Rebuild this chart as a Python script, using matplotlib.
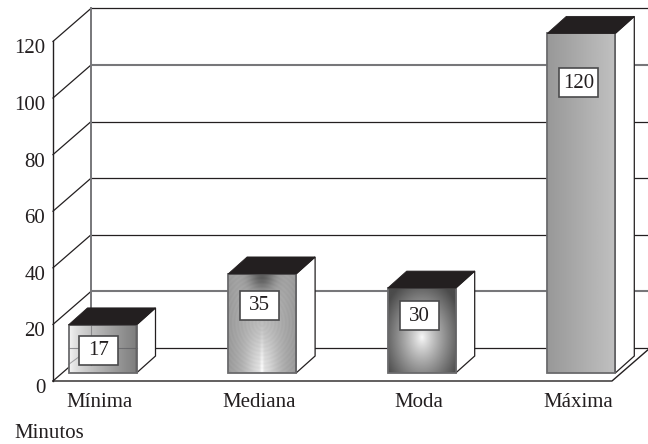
import numpy as np
import matplotlib
matplotlib.use("Agg")
import matplotlib.pyplot as plt
from matplotlib.patches import Polygon, Rectangle
from matplotlib.transforms import ScaledTranslation

# Chart data
categories = ["Mínima", "Mediana", "Moda", "Máxima"]
minutes = [17, 35, 30, 120]
value_ticks = [0, 20, 40, 60, 80, 100, 120]
tick_labels = ["0", "20", "40", "60", "80", "100", "120"]
label_heights = [8.1, 24.0, 20.3, 102.5]

plt.rcParams["font.family"] = ["Liberation Serif", "DejaVu Serif"]
INK = "#231f20"
GREY = "#77777a"
FS = 15

W, H = 648, 444
fig = plt.figure(figsize=(W / 100, H / 100), dpi=100)
ax = fig.add_axes([53 / W, (H - 381) / H, (W - 53) / W, 381 / H])

PX_X = 159.6   # pixels per category
PX_Y = 2.83    # pixels per minute
C0 = 99.5      # pixel position of the first category
ax.set_xlim((53 - C0) / PX_X, (W - C0) / PX_X)
ax.set_ylim(0, 381 / PX_Y)
for s in ax.spines.values():
    s.set_visible(False)

# Depth of the chart box and of the bars, in data units
WALL_DX, WALL_DY = 38 / PX_X, 33 / PX_Y
BAR_DX, BAR_DY = 19 / PX_X, 17 / PX_Y
BAR_W = 68 / PX_X
BAR_SHIFT = 3 / PX_X
BASE = 8 / PX_Y
x_left = ax.get_xlim()[0]
x_right = ax.get_xlim()[1]
x_front_end = x_left + 559 / PX_X

# Back wall grid, side wall diagonals and floor
line_colors = {0: INK, 20: GREY, 40: INK, 60: INK, 80: INK, 100: GREY, 120: INK}
for v in value_ticks:
    xb = x_left + WALL_DX
    yb = v + WALL_DY
    wide = line_colors[v] == GREY
    ax.plot([xb, x_right], [yb, yb], color=line_colors[v], lw=1.5 if wide else 0.9,
            clip_on=False, zorder=1, solid_capstyle="butt")
    ax.plot([x_left, xb], [v, yb], color=INK, lw=0.9, clip_on=False, zorder=1)
ax.plot([x_left + WALL_DX] * 2, [WALL_DY, 120 + WALL_DY], color=GREY, lw=1.4, zorder=1)
ax.plot([x_left, x_left], [0, 120], color=INK, lw=1.0, clip_on=False, zorder=1)
ax.plot([x_left, x_front_end, x_front_end + WALL_DX], [0, 0, WALL_DY],
        color=INK, lw=1.0, clip_on=False, zorder=1)


# Face shadings, one per bar
def grid(n=200, m=300):
    u, t = np.meshgrid(np.linspace(-1, 1, n), np.linspace(0, 1, m))
    return u, t


def shade_min():
    u, t = grid()
    s = (u + 1) / 2
    return 245 - 120 * s ** 0.75


def shade_median():
    u, t = grid()
    dark = np.exp(-((u / 0.40) ** 2) - ((t - 0.02) / 0.16) ** 2)
    light = np.exp(-((u / 0.45) ** 2) - ((t - 1.0) / 0.40) ** 2)
    spine = np.exp(-((u / 0.05) ** 2)) * np.clip((t - 0.45) / 0.55, 0, 1)
    base = 176 - 22 * np.abs(u) ** 2
    rings = 3 * np.sin(np.hypot(u * 60, (t - 0.5) * 150))
    return np.clip(base - 85 * dark + 48 * light + 28 * spine + rings, 0, 255)


def shade_mode():
    u, t = grid()
    r = np.hypot(u / 1.15, (t - 0.58) / 0.66)
    return np.clip(250 - 165 * np.clip(r, 0, 1.3) ** 0.85, 75, 255)


def shade_max():
    u, t = grid()
    return 152 + 40 * (u + 1) / 2


shades = [shade_min, shade_median, shade_mode, shade_max]

for i, (v, shade) in enumerate(zip(minutes, shades)):
    x0 = i + BAR_SHIFT - BAR_W / 2
    x1 = x0 + BAR_W
    y0, y1 = BASE, BASE + v
    ax.imshow(shade(), cmap="gray", vmin=0, vmax=255, aspect="auto",
              extent=(x0, x1, y0, y1), origin="upper", zorder=2, interpolation="bilinear")
    ax.add_patch(Rectangle((x0, y0), BAR_W, v, fc="none", ec="#6a6a6c", lw=1.3, zorder=4))
    ax.add_patch(Polygon([(x1, y0), (x1 + BAR_DX, y0 + BAR_DY),
                          (x1 + BAR_DX, y1 + BAR_DY), (x1, y1)],
                         fc="white", ec=INK, lw=0.9, zorder=3))
    ax.add_patch(Polygon([(x0, y1), (x1, y1), (x1 + BAR_DX, y1 + BAR_DY),
                          (x0 + BAR_DX, y1 + BAR_DY)],
                         fc=INK, ec=INK, lw=0.6, zorder=5))

# Grid lines that stay visible through the first bar's face
x0 = BAR_SHIFT - BAR_W / 2
ax.plot([x0, x0 + BAR_W], [WALL_DY] * 2, color="#55555a", lw=0.8, alpha=0.6, zorder=3)
ax.plot([x_left + WALL_DX] * 2, [BASE + 3, minutes[0] + BASE], color="#55555a", lw=0.8, alpha=0.5, zorder=3)
ax.plot([x0, x_left + WALL_DX], [BASE + 3, WALL_DY], color="#55555a", lw=0.7, alpha=0.5, zorder=3)

# Value boxes with a fixed size on the bar faces
BOX_W, BOX_H = 39 / PX_X, 29 / PX_Y
for i, (v, h) in enumerate(zip(minutes, label_heights)):
    cx = i + (-1.5 if i == 0 else 0) / PX_X + (0.5 / PX_X)
    cy = h + BASE
    ax.add_patch(Rectangle((cx - BOX_W / 2, cy - BOX_H / 2), BOX_W, BOX_H,
                           fc="white", ec="#4a4a4c", lw=1.2, zorder=6))
    ax.text(cx, cy - 0.2, str(v), ha="center", va="center", fontsize=FS, color=INK, zorder=7)

# Axis labels
ax.set_xticks(range(len(categories)), categories)
ax.set_yticks(value_ticks, tick_labels)
ax.tick_params(axis="both", length=0, labelsize=FS, labelcolor=INK)
ax.tick_params(axis="x", pad=8.3)
ax.tick_params(axis="y", pad=5.5)
shift = ScaledTranslation(0, -5 / 100, fig.dpi_scale_trans)
for lab in ax.get_yticklabels():
    lab.set_transform(lab.get_transform() + shift)

fig.text(14 / W, 1 - 433.5 / H, "Minutos", fontsize=FS, color=INK, ha="left", va="center")

fig.savefig("out.png", dpi=100)
